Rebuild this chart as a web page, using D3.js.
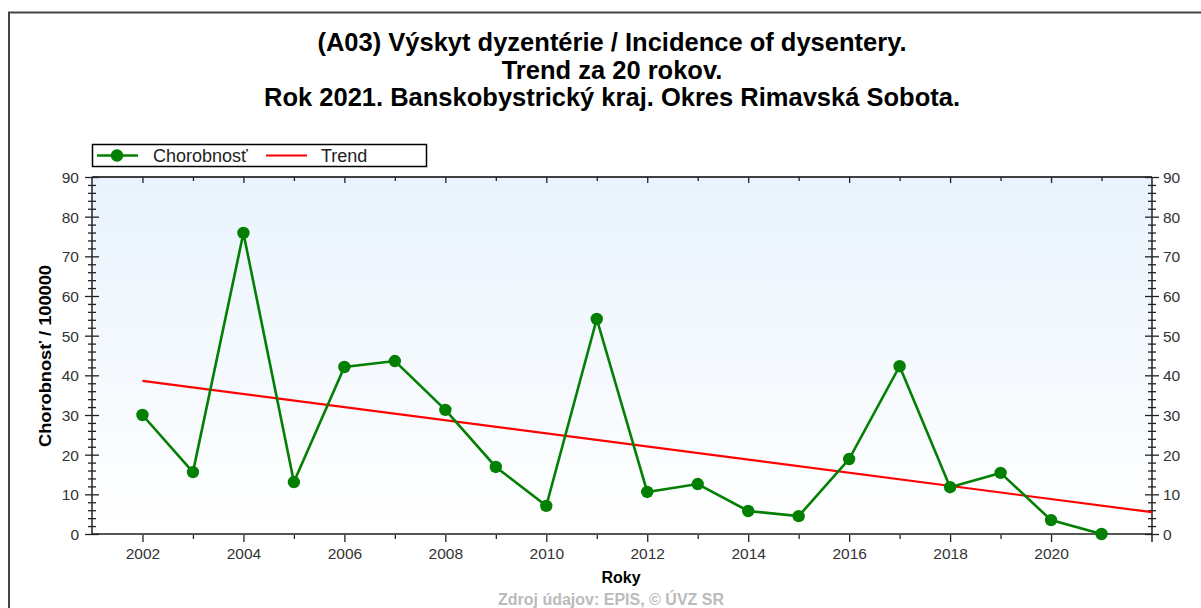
<!DOCTYPE html>
<html><head><meta charset="utf-8">
<script src="https://cdn.jsdelivr.net/npm/d3@7"></script>
<style>html,body{margin:0;padding:0;background:#fff;} svg{display:block;font-family:"Liberation Sans",Arial,sans-serif;}</style>
</head><body>
<svg id="c" width="1201" height="608"></svg>
<script>
const titleLines = ["(A03) Výskyt dyzentérie / Incidence of dysentery.", "Trend za 20 rokov.", "Rok 2021. Banskobystrický kraj. Okres Rimavská Sobota."];
const years = [2002,2003,2004,2005,2006,2007,2008,2009,2010,2011,2012,2013,2014,2015,2016,2017,2018,2019,2020,2021];
const values = [30.0,15.6,75.9,13.1,42.1,43.6,31.3,16.9,7.1,54.2,10.6,12.6,5.8,4.5,18.9,42.3,11.8,15.4,3.5,0];
const trendYears = [2002, 2022];
const trendValues = [38.6, 5.5];
const xTickLabels = [2002,2004,2006,2008,2010,2012,2014,2016,2018,2020];
const yTickLabels = [0,10,20,30,40,50,60,70,80,90];
const seriesName = "Chorobnosť", trendName = "Trend";
const yLabel = "Chorobnosť / 100000", xLabel = "Roky", footer = "Zdroj údajov: EPIS, © ÚVZ SR";

const svg = d3.select("#c");
const L = 92, R = 1152, T = 177, B = 534;
const x = d3.scaleLinear().domain([2001, 2022]).range([L, R]);
const y = d3.scaleLinear().domain([0, 90]).range([B, T]);

// outer frame
svg.append("path").attr("d", `M9,608 V12.5 H1201`).attr("fill","none").attr("stroke","#444").attr("stroke-width",2);

// titles
titleLines.forEach((t,i)=>{
  svg.append("text").attr("x",612).attr("y",51+i*27.5).attr("text-anchor","middle")
    .attr("font-size",25.5).attr("font-weight","bold").attr("fill","#000").text(t);
});

// plot background gradient
const defs = svg.append("defs");
const g = defs.append("linearGradient").attr("id","bg").attr("x1",0).attr("y1",0).attr("x2",0).attr("y2",1);
g.append("stop").attr("offset","0%").attr("stop-color","#e9f3fd");
g.append("stop").attr("offset","100%").attr("stop-color","#ffffff");
svg.append("rect").attr("x",L).attr("y",T).attr("width",R-L).attr("height",B-T).attr("fill","url(#bg)");

// top border line
svg.append("line").attr("x1",L).attr("x2",R).attr("y1",T).attr("y2",T).attr("stroke","#000").attr("stroke-width",1.5);

const tickColor = "#222";
// bottom axis
const xb = svg.append("g").attr("transform",`translate(0,${B})`);
xb.call(d3.axisBottom(x).tickValues(d3.range(2001,2023)).tickSize(0).tickFormat(""));
xb.select(".domain").remove();
xb.append("line").attr("x1",L).attr("x2",R).attr("stroke","#555").attr("stroke-width",2);
xb.selectAll(".tick").each(function(d){
  const s = d3.select(this);
  if (d===2001 || d===2022) return;
  const major = d%2===0;
  s.append("line").attr("y1",0).attr("y2",major?8:5).attr("stroke",tickColor).attr("stroke-width",1.3);
  if (xTickLabels.includes(d)) s.append("text").attr("y",25).attr("text-anchor","middle")
      .attr("font-size",15.5).attr("fill","#333").text(d);
});
// top axis ticks inward
const xt = svg.append("g").attr("transform",`translate(0,${T})`);
xt.call(d3.axisTop(x).tickValues(d3.range(2002,2022)).tickSize(0).tickFormat(""));
xt.select(".domain").remove();
xt.selectAll(".tick").append("line").attr("y1",0).attr("y2",d=>d%2===0?6:4).attr("stroke",tickColor).attr("stroke-width",1.3);

function yAxis(xpos, side){
  const ga = svg.append("g").attr("transform",`translate(${xpos},0)`);
  ga.call((side<0?d3.axisLeft(y):d3.axisRight(y)).tickValues(d3.range(0,91,2)).tickSize(0).tickFormat(""));
  ga.select(".domain").remove();
  ga.append("line").attr("y1",T).attr("y2",side>0?B+8:B).attr("stroke","#222").attr("stroke-width",1.5);
  ga.selectAll(".tick").each(function(d){
    const s = d3.select(this);
    const major = d%10===0;
    s.append("line").attr("x1",major?-7:-4).attr("x2",major?7:4).attr("stroke",tickColor).attr("stroke-width",1.3);
    if (major && yTickLabels.includes(d)) s.append("text").attr("x",side<0?-13:11).attr("dy","0.35em")
      .attr("text-anchor",side<0?"end":"start").attr("font-size",15.5).attr("fill","#333").text(d);
  });
}
yAxis(L,-1);
yAxis(R,1);

// trend
svg.append("path").datum(trendYears.map((d,i)=>[d,trendValues[i]]))
  .attr("d", d3.line().x(d=>x(d[0])).y(d=>y(d[1])))
  .attr("fill","none").attr("stroke","#ff0000").attr("stroke-width",2.2);

// series
const pts = years.map((d,i)=>[d,values[i]]);
svg.append("path").datum(pts).attr("d", d3.line().x(d=>x(d[0])).y(d=>y(d[1])))
  .attr("fill","none").attr("stroke","#038003").attr("stroke-width",2.6);
svg.append("g").selectAll("circle").data(pts).join("circle")
  .attr("cx",d=>x(d[0])).attr("cy",d=>y(d[1])).attr("r",6.2).attr("fill","#038003");

// legend
svg.append("rect").attr("x",92.5).attr("y",144.5).attr("width",334).attr("height",22)
  .attr("fill","#fff").attr("stroke","#000").attr("stroke-width",1.5);
svg.append("line").attr("x1",97).attr("x2",138).attr("y1",155.5).attr("y2",155.5).attr("stroke","#038003").attr("stroke-width",2.6);
svg.append("circle").attr("cx",117).attr("cy",155.5).attr("r",6.2).attr("fill","#038003");
svg.append("text").attr("x",153).attr("y",162).attr("font-size",18).attr("fill","#222").text(seriesName);
svg.append("line").attr("x1",266).attr("x2",307).attr("y1",155.5).attr("y2",155.5).attr("stroke","#ff0000").attr("stroke-width",2.2);
svg.append("text").attr("x",321).attr("y",162).attr("font-size",18).attr("fill","#222").text(trendName);

// axis labels
svg.append("text").attr("transform","translate(51,356) rotate(-90)").attr("text-anchor","middle")
  .attr("font-size",16.5).attr("font-weight","bold").attr("fill","#000")
  .attr("textLength",182).attr("lengthAdjust","spacingAndGlyphs").text(yLabel);
svg.append("text").attr("x",621).attr("y",583).attr("text-anchor","middle")
  .attr("font-size",16).attr("font-weight","bold").attr("fill","#000").text(xLabel);
svg.append("text").attr("x",611).attr("y",605).attr("text-anchor","middle")
  .attr("font-size",16).attr("font-weight","bold").attr("fill","#bbb").text(footer);
</script>
</body></html>
